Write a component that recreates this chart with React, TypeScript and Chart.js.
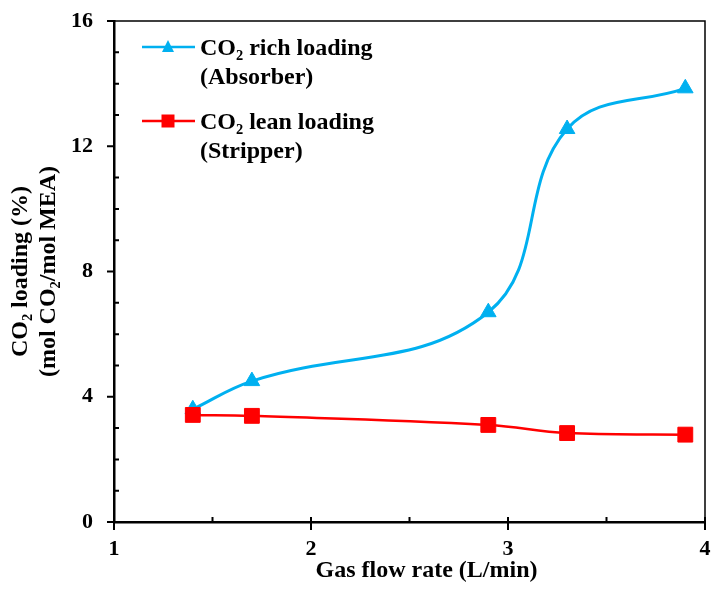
import React, { useEffect, useRef } from "react";
import { Chart, registerables } from "chart.js";

Chart.register(...registerables);

const flowRates = [1.4, 1.7, 2.9, 3.3, 3.9];
const richLoading = [3.6, 4.5, 6.7, 12.55, 13.85];
const leanLoading = [3.42, 3.39, 3.1, 2.84, 2.79];
const xTickValues = [1, 2, 3, 4];
const yTickValues = [0, 4, 8, 12, 16];
const richLabel = ["CO₂ rich loading", "(Absorber)"];
const leanLabel = ["CO₂ lean loading", "(Stripper)"];
const xTitle = "Gas flow rate (L/min)";
const yTitle = ["CO₂ loading (%)", "(mol CO₂/mol MEA)"];

const RICH_COLOR = "#00B0F0";
const LEAN_COLOR = "#FF0000";
const FAMILY = "'Liberation Serif', 'Times New Roman', serif";

const decorPlugin = {
  id: "decor",
  afterDraw(chart: any) {
    const { ctx, chartArea: a, scales } = chart;
    const x = scales.x;
    const y = scales.y;
    ctx.save();
    ctx.strokeStyle = "#000";
    // top & right frame
    ctx.lineWidth = 1.5;
    ctx.beginPath();
    ctx.moveTo(a.left, a.top);
    ctx.lineTo(a.right, a.top);
    ctx.lineTo(a.right, a.bottom);
    ctx.stroke();
    // y ticks
    ctx.lineWidth = 2;
    ctx.beginPath();
    for (let v = 0; v <= 16; v += 1) {
      const py = y.getPixelForValue(v);
      if (v % 4 === 0) {
        ctx.moveTo(a.left - 7, py);
        ctx.lineTo(a.left, py);
      } else {
        ctx.moveTo(a.left, py);
        ctx.lineTo(a.left + 5, py);
      }
    }
    // x ticks
    for (let v = 1; v <= 4; v += 0.5) {
      const px = x.getPixelForValue(v);
      if (Number.isInteger(v)) {
        ctx.moveTo(px, a.bottom - 5);
        ctx.lineTo(px, a.bottom + 8);
      } else {
        ctx.moveTo(px, a.bottom - 5);
        ctx.lineTo(px, a.bottom);
      }
    }
    ctx.stroke();

    // legend
    const lx0 = a.left + 28;
    const lx1 = a.left + 81;
    const mx = a.left + 54;
    const tx = a.left + 86;
    const rows = [
      { yy: a.top + 26, color: RICH_COLOR, shape: "tri", lines: richLabel },
      { yy: a.top + 100, color: LEAN_COLOR, shape: "sq", lines: leanLabel },
    ];
    ctx.font = `bold 24px ${FAMILY}`;
    ctx.textAlign = "left";
    ctx.textBaseline = "middle";
    for (const r of rows) {
      ctx.strokeStyle = r.color;
      ctx.fillStyle = r.color;
      ctx.lineWidth = 2.5;
      ctx.beginPath();
      ctx.moveTo(lx0, r.yy);
      ctx.lineTo(lx1, r.yy);
      ctx.stroke();
      ctx.beginPath();
      if (r.shape === "tri") {
        ctx.moveTo(mx, r.yy - 7);
        ctx.lineTo(mx + 6, r.yy + 5);
        ctx.lineTo(mx - 6, r.yy + 5);
        ctx.closePath();
      } else {
        ctx.rect(mx - 6.5, r.yy - 6.5, 13, 13);
      }
      ctx.fill();
      ctx.fillStyle = "#000";
      r.lines.forEach((t: string, i: number) => {
        ctx.fillText(t, tx, r.yy + 2 + i * 29);
      });
    }

    // x title
    ctx.font = `bold 24px ${FAMILY}`;
    ctx.textAlign = "center";
    ctx.textBaseline = "middle";
    ctx.fillStyle = "#000";
    ctx.fillText(xTitle, (a.left + a.right) / 2 + 17, 571);
    ctx.restore();
  },
};

export default function App() {
  const canvasRef = useRef<HTMLCanvasElement | null>(null);

  useEffect(() => {
    if (!canvasRef.current) return;
    const tickFont = { family: FAMILY, size: 22, weight: "bold" as const };
    const chart = new Chart(canvasRef.current, {
      type: "line",
      data: {
        datasets: [
          {
            label: leanLabel.join(" "),
            data: flowRates.map((f, i) => ({ x: f, y: leanLoading[i] })),
            borderColor: LEAN_COLOR,
            backgroundColor: LEAN_COLOR,
            borderWidth: 2.5,
            pointStyle: "rect",
            pointRadius: 10.5,
            pointBorderWidth: 1,
            tension: 0.4,
            order: 0,
          },
          {
            label: richLabel.join(" "),
            data: flowRates.map((f, i) => ({ x: f, y: richLoading[i] })),
            borderColor: RICH_COLOR,
            backgroundColor: RICH_COLOR,
            borderWidth: 3,
            pointStyle: "triangle",
            pointRadius: 9,
            pointBorderWidth: 1,
            tension: 0.4,
            order: 1,
          },
        ],
      },
      options: {
        animation: false,
        responsive: true,
        maintainAspectRatio: false,
        layout: { autoPadding: false, padding: { top: 21, right: 6, left: 0, bottom: 0 } },
        plugins: {
          legend: { display: false },
          tooltip: { enabled: false },
        },
        scales: {
          x: {
            type: "linear",
            min: 1,
            max: 4,
            afterFit: (s: any) => {
              s.height = 68;
              s.paddingLeft = 0;
              s.paddingRight = 0;
            },
            afterBuildTicks: (s: any) => {
              s.ticks = xTickValues.map((v) => ({ value: v }));
            },
            ticks: { font: tickFont, color: "#000", padding: 14, maxRotation: 0 },
            grid: { display: true, drawOnChartArea: false, drawTicks: false },
            border: { display: true, color: "#000", width: 2.5 },
          },
          y: {
            type: "linear",
            min: 0,
            max: 16,
            afterFit: (s: any) => {
              s.width = 114;
              s.paddingTop = 0;
              s.paddingBottom = 0;
            },
            afterBuildTicks: (s: any) => {
              s.ticks = yTickValues.map((v) => ({ value: v }));
            },
            ticks: { font: tickFont, color: "#000", padding: 21 },
            grid: { display: true, drawOnChartArea: false, drawTicks: false },
            border: { display: true, color: "#000", width: 2.5 },
            title: {
              display: true,
              text: yTitle,
              color: "#000",
              font: { family: FAMILY, size: 24, weight: "bold", lineHeight: 1.2 },
              padding: { top: 6, bottom: 0 },
            },
          },
        },
      },
      plugins: [decorPlugin],
    });
    return () => chart.destroy();
  }, []);

  return (
    <div style={{ position: "absolute", left: 0, top: 0, width: 711, height: 590 }}>
      <canvas ref={canvasRef} />
    </div>
  );
}
